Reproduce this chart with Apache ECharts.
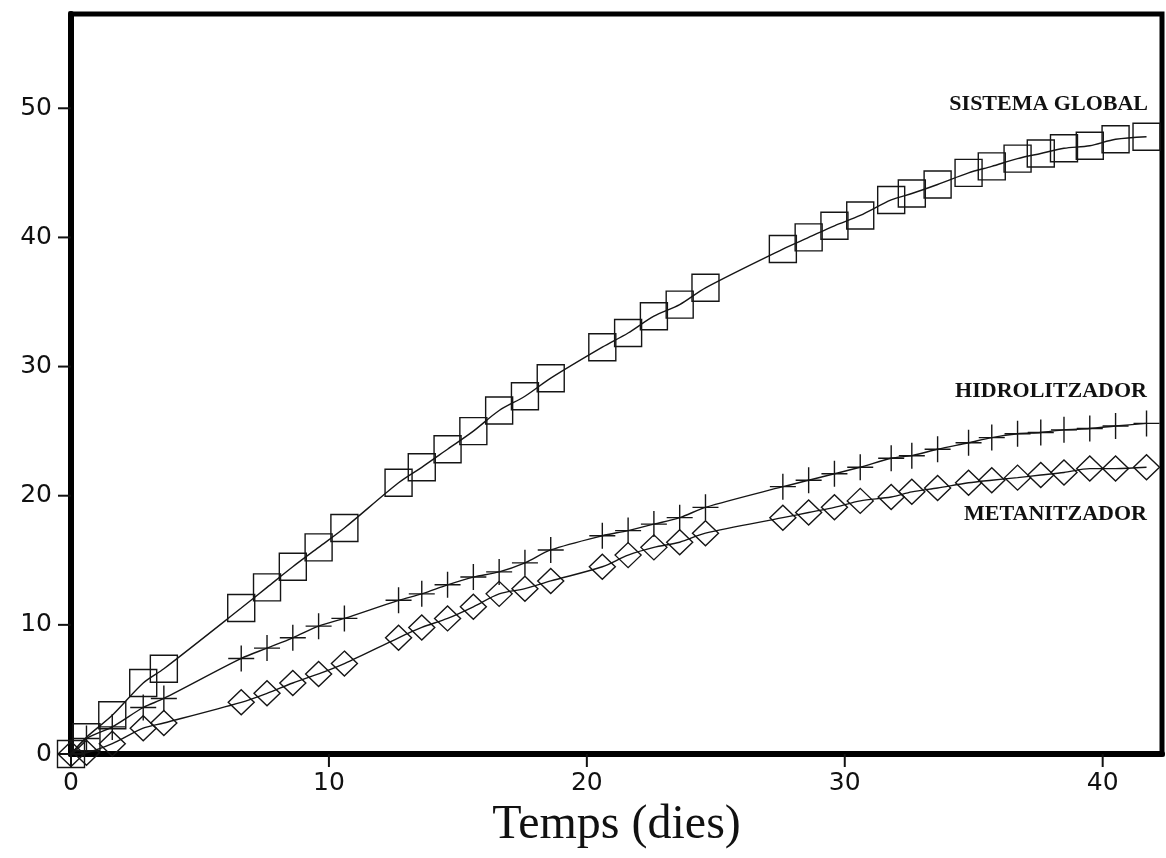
<!DOCTYPE html>
<html>
<head>
<meta charset="utf-8">
<title>Temps (dies)</title>
<script src="https://cdn.jsdelivr.net/npm/echarts@6/dist/echarts.min.js"></script>
<style>
  html, body { margin: 0; padding: 0; background: #fff; }
  #chart { width: 1166px; height: 858px; }
</style>
</head>
<body>
<div id="chart"></div>
<script>
// Sampling days (shared by the three series)
var days = [0, 0.6, 1.6, 2.8, 3.6, 6.6, 7.6, 8.6, 9.6, 10.6, 12.7, 13.6, 14.6, 15.6, 16.6, 17.6, 18.6,
  20.6, 21.6, 22.6, 23.6, 24.6, 27.6, 28.6, 29.6, 30.6, 31.8, 32.6, 33.6, 34.8, 35.7, 36.7, 37.6,
  38.5, 39.5, 40.5, 41.7];

// Whole system
var sistemaGlobal = [0, 1.3, 3.0, 5.5, 6.6, 11.3, 12.9, 14.5, 16.0, 17.5, 21.0, 22.2, 23.6, 25.0, 26.6, 27.7, 29.1,
  31.5, 32.6, 33.9, 34.8, 36.1, 39.1, 40.0, 40.9, 41.7, 42.9, 43.4, 44.1, 45.0, 45.5, 46.1, 46.5,
  46.9, 47.1, 47.6, 47.8];

// Hydrolysis reactor
var hidrolitzador = [0, 1.2, 2.1, 3.6, 4.3, 7.4, 8.2, 9.0, 9.9, 10.5, 11.9, 12.4, 13.1, 13.7, 14.1, 14.8, 15.8,
  16.9, 17.3, 17.8, 18.3, 19.1, 20.7, 21.2, 21.7, 22.2, 22.9, 23.1, 23.6, 24.1, 24.5, 24.8, 24.9,
  25.1, 25.2, 25.4, 25.6];

// Methanogenic reactor
var metanitzador = [0, 0.1, 0.8, 2.0, 2.4, 4.0, 4.7, 5.5, 6.2, 7.0, 9.0, 9.8, 10.5, 11.4, 12.4, 12.8, 13.4,
  14.5, 15.4, 16.0, 16.4, 17.1, 18.3, 18.7, 19.1, 19.6, 19.9, 20.3, 20.6, 21.0, 21.2, 21.4, 21.6,
  21.8, 22.1, 22.1, 22.2];

var xTicks = [0, 10, 20, 30, 40];
var yTicks = [0, 10, 20, 30, 40, 50];

var seriesNames = ['SISTEMA GLOBAL', 'HIDROLITZADOR', 'METANITZADOR'];

function pairs(ys) {
  return days.map(function (d, i) { return [d, ys[i]]; });
}

var ink = '#151515';
var crossPath = 'path://M0 12H24M12 0V24';

function makeSeries(name, ys, symbol, size) {
  return {
    name: name,
    type: 'line',
    data: pairs(ys),
    smooth: 0.3,
    clip: false,
    symbol: symbol,
    symbolSize: size,
    showAllSymbol: true,
    lineStyle: { color: ink, width: 1.4 },
    itemStyle: { color: 'rgba(0,0,0,0)', borderColor: ink, borderWidth: 1.4 },
    emphasis: { disabled: true },
    z: 3
  };
}

var chart = echarts.init(document.getElementById('chart'), null, { renderer: 'canvas' });

var tickFont = '"DejaVu Sans", Lato, sans-serif';
var serif = '"Liberation Serif", "DejaVu Serif", serif';

chart.setOption({
  animation: false,
  backgroundColor: '#ffffff',
  grid: {
    left: 71, right: 4, top: 14, bottom: 104,
    show: true,
    borderColor: '#000',
    borderWidth: 5,
    backgroundColor: 'transparent'
  },
  xAxis: {
    type: 'value',
    min: 0,
    max: 42.3,
    interval: 10,
    name: 'Temps (dies)',
    nameLocation: 'middle',
    nameGap: 43,
    nameTextStyle: { fontFamily: serif, fontSize: 48, color: '#111' },
    splitLine: { show: false },
    axisLine: { show: true, lineStyle: { color: '#000', width: 6 } },
    axisTick: { show: false },
    axisLabel: { customValues: xTicks, margin: 17, fontFamily: tickFont, fontSize: 25, color: '#111' }
  },
  yAxis: {
    type: 'value',
    min: 0,
    max: 57.3,
    interval: 10,
    splitLine: { show: false },
    axisLine: { show: true, lineStyle: { color: '#000', width: 6 } },
    axisTick: { show: false },
    axisLabel: { customValues: yTicks, margin: 19, fontFamily: tickFont, fontSize: 25, color: '#111' }
  },
  series: [
    makeSeries(seriesNames[0], sistemaGlobal, 'rect', 27),
    makeSeries(seriesNames[1], hidrolitzador, crossPath, 26),
    makeSeries(seriesNames[2], metanitzador, 'diamond', [26, 25])
  ]
});

// Outward tick marks at the labelled values, placed through the axis scales
var x0 = chart.convertToPixel({ xAxisIndex: 0 }, 0);
var y0 = chart.convertToPixel({ yAxisIndex: 0 }, 0);
var tickLen = 13;
var tickStyle = { stroke: '#111', lineWidth: 2 };
var graphics = [];
yTicks.forEach(function (v) {
  var py = chart.convertToPixel({ yAxisIndex: 0 }, v);
  graphics.push({ type: 'line', z: 5, shape: { x1: x0 - tickLen, y1: py, x2: x0, y2: py }, style: tickStyle });
});
xTicks.forEach(function (v) {
  var px = chart.convertToPixel({ xAxisIndex: 0 }, v);
  graphics.push({ type: 'line', z: 5, shape: { x1: px, y1: y0, x2: px, y2: y0 + tickLen }, style: tickStyle });
});

// Series names written beside the curve ends
graphics.push(
  { type: 'text', right: 18, top: 93, style: { text: seriesNames[0], font: 'bold 22px ' + serif, fill: '#111' } },
  { type: 'text', right: 19, top: 380, style: { text: seriesNames[1], font: 'bold 22px ' + serif, fill: '#111' } },
  { type: 'text', right: 19, top: 503, style: { text: seriesNames[2], font: 'bold 22px ' + serif, fill: '#111' } }
);

chart.setOption({ graphic: graphics });
</script>
</body>
</html>
